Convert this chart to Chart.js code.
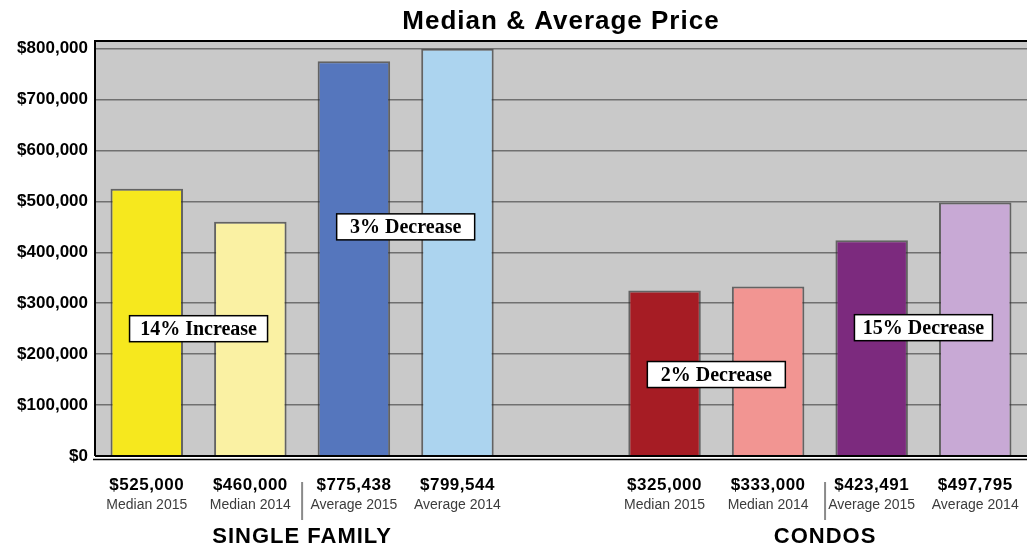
<!DOCTYPE html>
<html>
<head>
<meta charset="utf-8">
<script src="https://cdn.jsdelivr.net/npm/chart.js@4/dist/chart.umd.min.js"></script>
<style>
  body { margin: 0; background: #fff; }
  #wrap { width: 1027px; height: 546px; position: relative; }
</style>
</head>
<body>
<div id="wrap"><canvas id="priceChart"></canvas></div>
<script>
// chart data
const titleText = 'Median & Average Price';
const categories = ['Median 2015', 'Median 2014', 'Average 2015', 'Average 2014', '',
                    'Median 2015', 'Median 2014', 'Average 2015', 'Average 2014'];
const prices = [525000, 460000, 775438, 799544, null, 325000, 333000, 423491, 497795];
const yTicks = [0, 100000, 200000, 300000, 400000, 500000, 600000, 700000, 800000];
const groupNames = ['SINGLE FAMILY', 'CONDOS'];
const changeNotes = ['14% Increase', '3% Decrease', '2% Decrease', '15% Decrease'];

// layout / style bits
const barColors = ['#f6e81e', '#faf1a3', '#5576bd', '#acd4ef', '#ffffff',
                   '#a61c24', '#f29592', '#7c2a7e', '#c8a9d5'];
const groupCenters = [1.5, 6.55];      // category index where group label + divider sit
const notePlaces = [[0.5, 250000], [2.5, 450000], [5.5, 160000], [7.5, 252000]];
const SANS = '"Liberation Sans", Arial, Helvetica, sans-serif';
const SERIF = '"Liberation Serif", "Times New Roman", serif';

const money = v => '$' + v.toLocaleString('en-US');

const decorPlugin = {
  id: 'decor',
  beforeDraw(chart) {
    const { ctx, chartArea: a } = chart;
    ctx.save();
    ctx.fillStyle = '#c9c9c9';
    ctx.fillRect(a.left, a.top, a.right - a.left, a.bottom - a.top);
    ctx.restore();
  },
  afterDraw(chart) {
    const { ctx, chartArea: a } = chart;
    const x = chart.scales.x, y = chart.scales.y;
    ctx.save();

    // frame: left + top border, double base line
    ctx.strokeStyle = '#000';
    ctx.lineWidth = 2;
    ctx.beginPath();
    ctx.moveTo(a.left, a.bottom);
    ctx.lineTo(a.left, a.top);
    ctx.lineTo(a.right, a.top);
    ctx.stroke();
    ctx.beginPath();
    ctx.moveTo(a.left, a.bottom);
    ctx.lineTo(a.right, a.bottom);
    ctx.stroke();
    ctx.lineWidth = 1.5;
    ctx.beginPath();
    ctx.moveTo(a.left - 2, a.bottom + 3.5);
    ctx.lineTo(a.right, a.bottom + 3.5);
    ctx.stroke();

    // title, centred on the plot
    ctx.fillStyle = '#000';
    ctx.textAlign = 'center';
    ctx.textBaseline = 'alphabetic';
    ctx.font = 'bold 26px ' + SANS;
    ctx.letterSpacing = '1px';
    ctx.fillText(titleText, (a.left + a.right) / 2, 29);

    // x labels: value + caption
    categories.forEach((cat, i) => {
      if (prices[i] == null) return;
      const cx = x.getPixelForValue(i);
      ctx.font = 'bold 17px ' + SANS;
      ctx.letterSpacing = '0.5px';
      ctx.fillStyle = '#000';
      ctx.fillText(money(prices[i]), cx, 490);
      ctx.font = '14px ' + SANS;
      ctx.letterSpacing = '0px';
      ctx.fillStyle = '#3c3c3c';
      ctx.fillText(cat, cx, 509);
    });

    // group labels + dividers
    groupNames.forEach((g, i) => {
      const gx = x.getPixelForValue(groupCenters[i]);
      ctx.strokeStyle = '#8a8a8a';
      ctx.lineWidth = 2;
      ctx.beginPath();
      ctx.moveTo(gx, 482);
      ctx.lineTo(gx, 520);
      ctx.stroke();
      ctx.font = 'bold 22px ' + SANS;
      ctx.letterSpacing = '1px';
      ctx.fillStyle = '#000';
      ctx.fillText(g, gx, 543);
    });

    // change boxes
    ctx.letterSpacing = '0px';
    changeNotes.forEach((t, i) => {
      const bx = x.getPixelForValue(notePlaces[i][0]);
      const by = y.getPixelForValue(notePlaces[i][1]);
      const w = 138, h = 26;
      ctx.fillStyle = '#fff';
      ctx.fillRect(bx - w / 2, by - h / 2, w, h);
      ctx.strokeStyle = '#000';
      ctx.lineWidth = 1.5;
      ctx.strokeRect(bx - w / 2, by - h / 2, w, h);
      ctx.fillStyle = '#000';
      ctx.font = 'bold 20px ' + SERIF;
      ctx.textBaseline = 'middle';
      ctx.fillText(t, bx, by + 1);
    });
    ctx.restore();
  }
};

const chart = new Chart(document.getElementById('priceChart'), {
  type: 'bar',
  data: {
    labels: categories,
    datasets: [{
      data: prices,
      backgroundColor: barColors,
      borderColor: 'rgba(45,45,45,0.65)',
      borderWidth: 2,
      borderSkipped: 'bottom',
      barPercentage: 0.7,
      categoryPercentage: 1
    }]
  },
  options: {
    responsive: true,
    maintainAspectRatio: false,
    animation: false,
    layout: { padding: { top: 41, left: 0, right: 0, bottom: 0 } },
    plugins: { legend: { display: false }, tooltip: { enabled: false }, title: { display: false } },
    scales: {
      x: {
        grid: { display: false },
        border: { display: false },
        ticks: { display: false },
        afterFit: s => { s.height = 90; }
      },
      y: {
        min: 0,
        max: 815000,
        afterBuildTicks: s => { s.ticks = yTicks.map(v => ({ value: v })); },
        grid: { color: '#707070', lineWidth: 1.5, drawTicks: false },
        border: { display: false },
        ticks: {
          padding: 7,
          color: '#000',
          font: { family: SANS, size: 17, weight: 'bold' },
          callback: v => money(v)
        },
        afterFit: s => { s.width = 95; }
      }
    }
  },
  plugins: [decorPlugin]
});
</script>
</body>
</html>
